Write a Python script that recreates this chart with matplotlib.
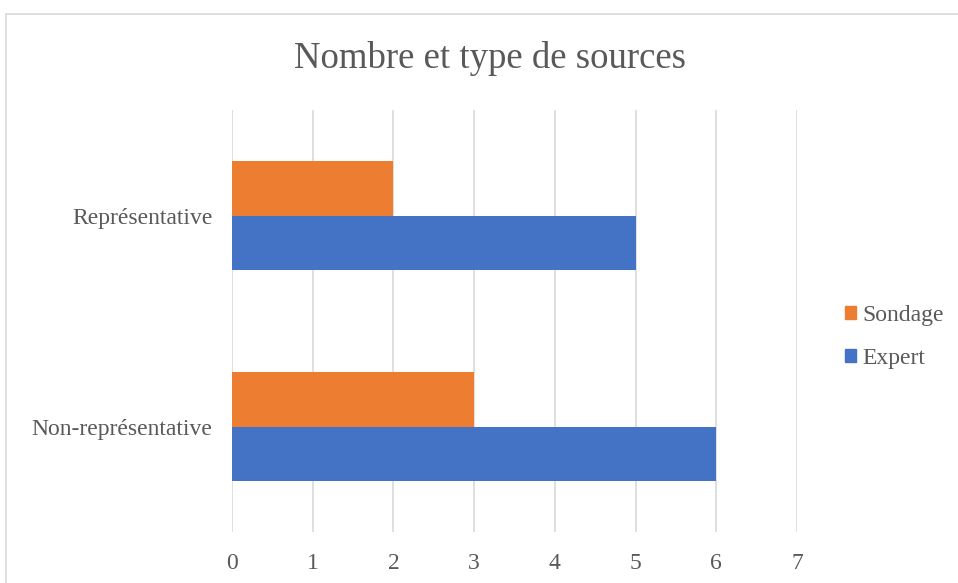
import matplotlib
matplotlib.use("Agg")
import matplotlib.pyplot as plt
import matplotlib.patches as mpatches
import numpy as np

categories = ["Non-représentative", "Représentative"]
sondage = [3, 2]
expert = [6, 5]
series_names = ["Sondage", "Expert"]
colors = ["#ED7D31", "#4472C4"]
xticks = [0, 1, 2, 3, 4, 5, 6, 7]

plt.rcParams['font.family'] = ['Liberation Serif', 'DejaVu Serif']
text_color = "#595959"
grid_color = "#D9D9D9"

W, H = 958, 583
fig = plt.figure(figsize=(W / 100, H / 100), dpi=100)
ax = fig.add_axes([232 / W, 1 - 532 / H, (797 - 232) / W, (532 - 110) / H])

y = np.arange(len(categories))
h = 0.26
ax.barh(y + h / 2, sondage, height=h, color=colors[0], label=series_names[0], zorder=3)
ax.barh(y - h / 2, expert, height=h, color=colors[1], label=series_names[1], zorder=3)

ax.set_xlim(0, 7)
ax.set_ylim(-0.5, 1.5)
ax.set_xticks(xticks)
ax.set_xticklabels([str(t) for t in xticks])
ax.set_yticks(y)
ax.set_yticklabels(categories)
ax.tick_params(axis='both', length=0, labelsize=17, colors=text_color)
ax.tick_params(axis='x', pad=15)
ax.tick_params(axis='y', pad=14)
ax.grid(axis='x', color=grid_color, linewidth=1.2, zorder=0)
ax.grid(axis='y', visible=False)
for s in ax.spines.values():
    s.set_visible(False)

fig.text(490 / W, 1 - 58 / H, "Nombre et type de sources", ha='center', va='center',
         fontsize=26.5, color=text_color)

handles = [mpatches.Patch(color=c) for c in colors]
leg = fig.legend(handles, series_names, loc='center left',
                 bbox_to_anchor=(845 / W, 1 - 337 / H), frameon=False, borderpad=0,
                 borderaxespad=0,
                 fontsize=17, labelcolor=text_color, handlelength=0.45, handleheight=0.45,
                 handletextpad=0.3, labelspacing=0.95)

rect = mpatches.Rectangle((5.5 / W, -0.1), 1.2, 1 - 14.5 / H + 0.1, transform=fig.transFigure,
                          fill=False, edgecolor=grid_color, linewidth=1.2)
fig.patches.append(rect)

fig.savefig("out.png", dpi=100, facecolor="white")
